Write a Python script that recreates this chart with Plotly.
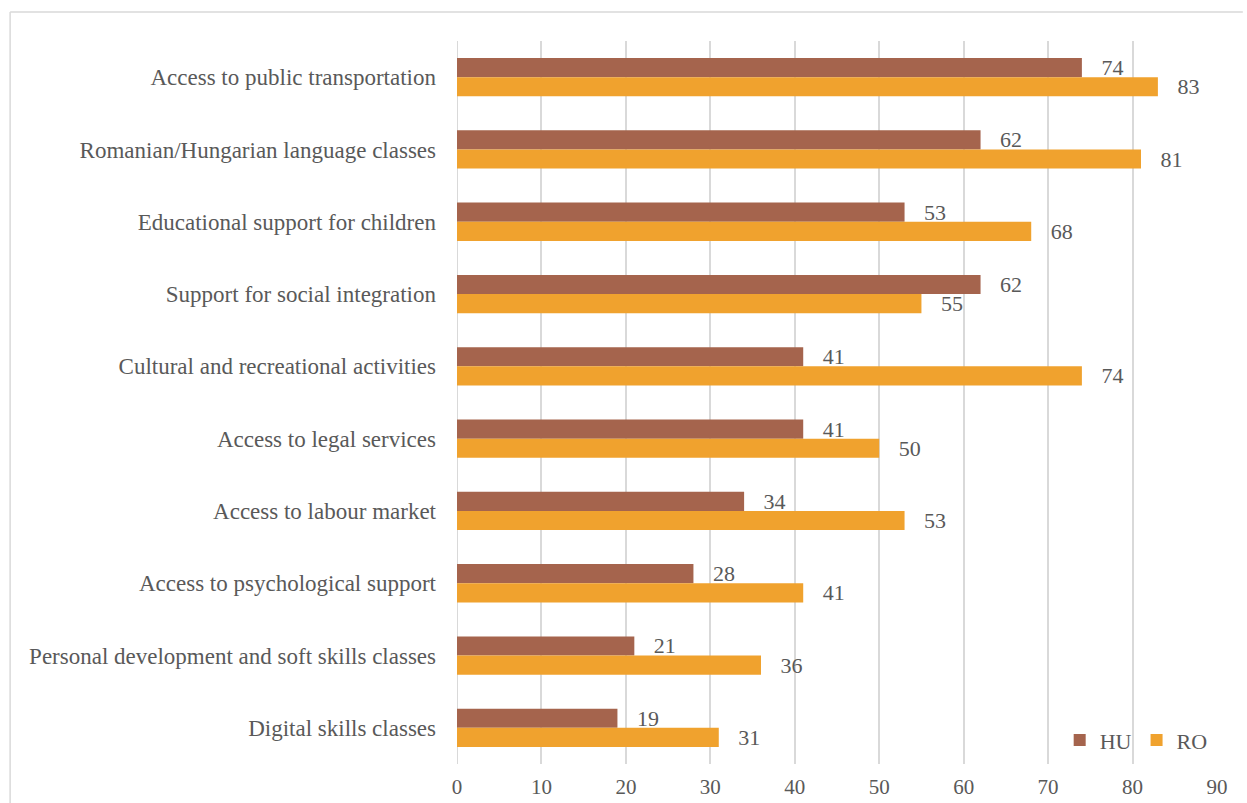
import plotly.graph_objects as go

categories = [
    "Access to public transportation",
    "Romanian/Hungarian language classes",
    "Educational support for children",
    "Support for social integration",
    "Cultural and recreational activities",
    "Access to legal services",
    "Access to labour market",
    "Access to psychological support",
    "Personal development and soft skills classes",
    "Digital skills classes",
]
hu_values = [74, 62, 53, 62, 41, 41, 34, 28, 21, 19]
ro_values = [83, 81, 68, 55, 74, 50, 53, 41, 36, 31]
x_ticks = [0, 10, 20, 30, 40, 50, 60, 70, 80, 90]

FONT = "Liberation Serif"
TEXT_GREY = "#595959"
HU_COLOR = "#A5644D"
RO_COLOR = "#F0A22E"

fig = go.Figure()
for name, vals, color in [("HU", hu_values, HU_COLOR), ("RO", ro_values, RO_COLOR)]:
    fig.add_trace(go.Bar(
        name=name,
        y=categories,
        x=vals,
        orientation="h",
        marker=dict(color=color, line=dict(width=0)),
        text=vals,
        texttemplate="   %{x}",
        textposition="outside",
        constraintext="none",
        cliponaxis=False,
        textfont=dict(family=FONT, size=22, color=TEXT_GREY),
    ))

fig.update_layout(
    width=1247,
    height=803,
    margin=dict(l=457, r=30, t=41, b=39, autoexpand=False),
    paper_bgcolor="white",
    plot_bgcolor="white",
    barmode="group",
    bargap=0.47,
    bargroupgap=0,
    font=dict(family=FONT, size=22, color=TEXT_GREY),
    showlegend=True,
    legend=dict(
        orientation="h",
        x=0.793, y=0.033, xanchor="left", yanchor="middle",
        bgcolor="rgba(0,0,0,0)",
        font=dict(family=FONT, size=22, color=TEXT_GREY),
        itemwidth=30,
        traceorder="normal",
    ),
    xaxis=dict(
        range=[0, 90],
        tickvals=x_ticks,
        showgrid=True,
        gridcolor="#D9D9D9",
        gridwidth=2,
        zeroline=False,
        showline=False,
        ticks="",
        automargin=False,
        ticklabelstandoff=8,
        tickfont=dict(family=FONT, size=21, color=TEXT_GREY),
    ),
    yaxis=dict(
        autorange="reversed",
        showgrid=False,
        zeroline=False,
        showline=False,
        ticks="",
        automargin=False,
        ticklabelstandoff=20,
        tickfont=dict(family=FONT, size=23, color=TEXT_GREY),
    ),
    shapes=[
        dict(type="line", xref="paper", yref="paper",
             x0=-0.588, x1=1.034, y0=1.04, y1=1.04,
             line=dict(color="#D9D9D9", width=1.5)),
        dict(type="line", xref="paper", yref="paper",
             x0=-0.588, x1=-0.588, y0=1.04, y1=-0.1,
             line=dict(color="#D9D9D9", width=1.5)),
        dict(type="line", xref="x", yref="paper",
             x0=0, x1=0, y0=0, y1=1,
             line=dict(color="#D9D9D9", width=2), layer="below"),
    ],
)

fig.write_html("out.html")
